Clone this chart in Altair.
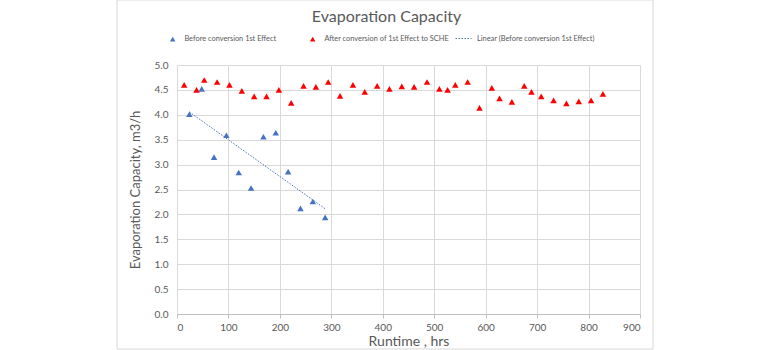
import altair as alt
import pandas as pd

blue_x = [24, 48, 72, 96, 120, 144, 168, 192, 216, 240, 264, 288]
blue_y = [4.01, 4.52, 3.15, 3.59, 2.84, 2.53, 3.56, 3.64, 2.86, 2.12, 2.26, 1.94]
red_x = [14, 38, 53, 78, 102, 126, 150, 174, 198, 222, 246, 270, 294, 317, 342, 365,
         389, 413, 437, 461, 486, 510, 526, 541, 565, 588, 612, 627, 651, 675, 689,
         708, 732, 757, 781, 805, 828]
red_y = [4.60, 4.50, 4.70, 4.66, 4.60, 4.48, 4.37, 4.37, 4.50, 4.24, 4.58, 4.56, 4.66,
         4.38, 4.60, 4.46, 4.58, 4.52, 4.57, 4.56, 4.66, 4.52, 4.50, 4.60, 4.66, 4.14,
         4.54, 4.33, 4.26, 4.58, 4.46, 4.37, 4.29, 4.23, 4.27, 4.29, 4.42]
s_before = "Before conversion 1st Effect"
s_after = "After conversion of 1st Effect to SCHE"
s_linear = "Linear (Before conversion 1st Effect)"
x_ticks = [0, 100, 200, 300, 400, 500, 600, 700, 800, 900]
y_ticks = [0, 0.5, 1, 1.5, 2, 2.5, 3, 3.5, 4, 4.5, 5]

df = pd.DataFrame({
    "x": blue_x + red_x,
    "y": blue_y + red_y,
    "series": [s_before] * len(blue_x) + [s_after] * len(red_x),
})
df_blue = pd.DataFrame({"x": blue_x, "y": blue_y})

FONT = "Lato"
GREY = "#595959"

xs = alt.Scale(domain=[0, 900], nice=False)
ys = alt.Scale(domain=[0, 5], nice=False)

xaxis = alt.Axis(values=x_ticks, title="Runtime , hrs", grid=True, gridColor="#d9d9d9",
                 domainColor="#bfbfbf", tickColor="#bfbfbf", tickSize=4, labelOverlap=False,
                 labelColor=GREY, labelFontSize=10, labelFont=FONT, labelPadding=4,
                 titleColor=GREY, titleFontSize=14, titleFont=FONT, titleFontWeight="normal",
                 titlePadding=2)
yaxis = alt.Axis(values=y_ticks, format=".1f", title="Evaporation Capacity, m3/h",
                 grid=True, gridColor="#d9d9d9", domain=False, ticks=False, labelOverlap=False,
                 labelColor=GREY, labelFontSize=10, labelFont=FONT, labelPadding=9,
                 titleColor=GREY, titleFontSize=13, titleFont=FONT, titleFontWeight="normal",
                 titlePadding=12)

points = alt.Chart(df).mark_point(shape="triangle-up", filled=True, size=42, opacity=1).encode(
    x=alt.X("x:Q", scale=xs, axis=xaxis),
    y=alt.Y("y:Q", scale=ys, axis=yaxis),
    color=alt.Color("series:N",
                    scale=alt.Scale(domain=[s_before, s_after], range=["#4472C4", "#FF0000"]),
                    legend=alt.Legend(title=None, orient="none", legendX=-8, legendY=-30,
                                      direction="horizontal", symbolType="triangle-up",
                                      symbolSize=30, labelFontSize=7.4, labelFont=FONT,
                                      labelColor=GREY, columnPadding=32, labelOffset=8)),
)

trend = alt.Chart(df_blue).transform_regression("x", "y").transform_calculate(
    label=f"'{s_linear}'"
).mark_line(color="#4472C4", strokeWidth=1).encode(
    x=alt.X("x:Q", scale=xs, axis=xaxis),
    y=alt.Y("y:Q", scale=ys, axis=yaxis),
    strokeDash=alt.StrokeDash("label:N",
                              scale=alt.Scale(domain=[s_linear], range=[[1.5, 1.5]]),
                              legend=alt.Legend(title=None, orient="none", legendX=278,
                                                legendY=-35, symbolType="stroke",
                                                symbolSize=256, symbolStrokeColor="#4472C4",
                                                symbolStrokeWidth=1,
                                                labelFontSize=7.4, labelFont=FONT,
                                                labelColor=GREY, labelOffset=5)),
)

border = alt.Chart(pd.DataFrame({"a": [0]})).mark_rect(
    fill="transparent", stroke="#d9d9d9", strokeWidth=1
).encode(x=alt.value(-60), x2=alt.value(476), y=alt.value(-65), y2=alt.value(284))

chart = alt.layer(border, trend, points).resolve_legend(
    color="independent", strokeDash="independent"
).properties(
    width=463,
    height=249,
    padding={"left": 177, "top": 65, "right": 130, "bottom": 36},
    autosize=alt.AutoSizeParams(type="none"),
    background="white",
    title=alt.TitleParams("Evaporation Capacity", anchor="middle", dx=-22, fontSize=16,
                          font=FONT, fontWeight="normal", color=GREY, offset=-25),
).configure_view(stroke=None)

chart.save("out.html", embed_options={"renderer": "svg", "actions": False})
